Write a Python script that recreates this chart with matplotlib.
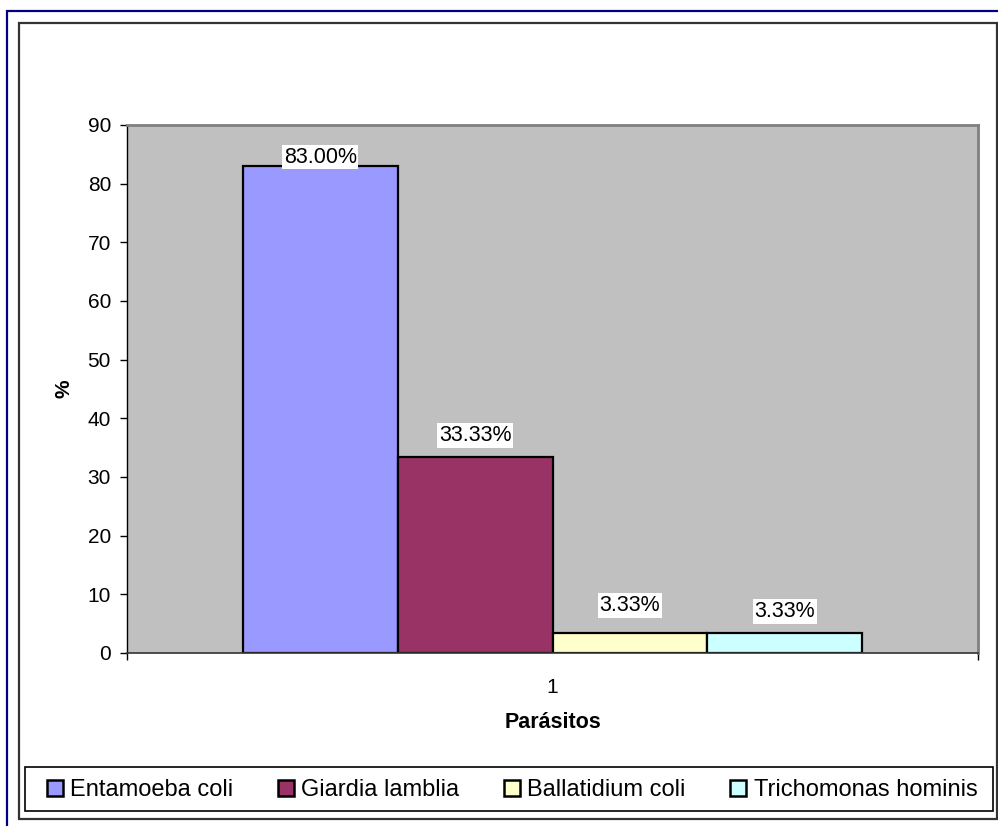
import matplotlib
matplotlib.use("Agg")
import matplotlib.pyplot as plt
from matplotlib.patches import Rectangle, Patch

plt.rcParams['font.family'] = ['Liberation Sans', 'DejaVu Sans']

# ---- data ----
categories = ["1"]
series_names = ["Entamoeba coli", "Giardia lamblia", "Ballatidium coli", "Trichomonas hominis"]
series_values = [83.00, 33.33, 3.33, 3.33]
value_labels = ["83.00%", "33.33%", "3.33%", "3.33%"]
y_ticks = [0, 10, 20, 30, 40, 50, 60, 70, 80, 90]

# ---- style ----
colors = ["#9999FF", "#993366", "#FFFFCC", "#CCFFFF"]
label_offsets_px = [9, 22, 28, 22]

W, H = 998, 826
fig = plt.figure(figsize=(W / 100, H / 100), dpi=100)
fig.patch.set_facecolor("white")

def fx(px):
    return px / W

def fy(py):
    return 1 - py / H

# outer frames
fig.patches.append(Rectangle((fx(7), fy(840)), fx(1010 - 7), fy(11) - fy(840),
                             transform=fig.transFigure, fill=False,
                             edgecolor="#000080", lw=1.6, zorder=0))
fig.patches.append(Rectangle((fx(19), fy(819)), fx(997 - 19), fy(23) - fy(819),
                             transform=fig.transFigure, fill=False,
                             edgecolor="#333333", lw=1.6, zorder=0))

# axes
left, right, top, bottom = 127, 978, 125, 653
ax = fig.add_axes([fx(left), fy(bottom), fx(right - left), fy(top) - fy(bottom)])
ax.set_facecolor("#C0C0C0")

n = len(series_values)
bar_w = 0.182
x0 = 1 - bar_w * n / 2 + bar_w / 2
for i, (name, val, col) in enumerate(zip(series_names, series_values, colors)):
    xc = x0 + i * bar_w
    ax.bar(xc, val, width=bar_w, color=col, edgecolor="black", linewidth=1.6,
           label=name, zorder=2)
    ax.annotate(value_labels[i], (xc, val), xytext=(0, label_offsets_px[i]),
                textcoords="offset pixels", ha="center", va="center",
                fontsize=15.5, color="black", zorder=5,
                bbox=dict(facecolor="white", edgecolor="none", pad=1.2))

ax.set_xlim(0.5, 1.5)
ax.set_ylim(0, 90)
ax.set_yticks(y_ticks)
ax.set_yticklabels([str(t) for t in y_ticks])
ax.tick_params(axis="y", direction="out", length=5, width=1, pad=6.5, labelsize=15)
ax.set_xticks([1])
ax.set_xticklabels(categories)
ax.tick_params(axis="x", which="major", length=0, pad=18, labelsize=15)
ax.set_xticks([0.5, 1.5], minor=True)
ax.tick_params(axis="x", which="minor", direction="out", length=5, width=1)

for s in ["top", "right"]:
    ax.spines[s].set_color("#808080")
    ax.spines[s].set_linewidth(2)
ax.spines["left"].set_color("black")
ax.spines["left"].set_linewidth(1)
ax.spines["bottom"].set_color("#333333")
ax.spines["bottom"].set_linewidth(1.2)

ax.set_ylabel("%", fontsize=15, fontweight="bold", labelpad=10)
ax.set_xlabel("Parásitos", fontsize=15.5, fontweight="bold", labelpad=11)

# legend frame
fig.patches.append(Rectangle((fx(25), fy(811)), fx(993 - 25), fy(767) - fy(811),
                             transform=fig.transFigure, fill=False,
                             edgecolor="black", lw=1.2, zorder=1))
handles = [Patch(facecolor=c, edgecolor="black", linewidth=1.8) for c in colors]
fig.legend(handles, series_names, loc="center", bbox_to_anchor=(fx(512), fy(790)),
           ncol=4, frameon=False, fontsize=17, handlelength=0.68, handleheight=0.68,
           handletextpad=0.3, columnspacing=1.9, borderpad=0)

fig.savefig("out.png", dpi=100)
